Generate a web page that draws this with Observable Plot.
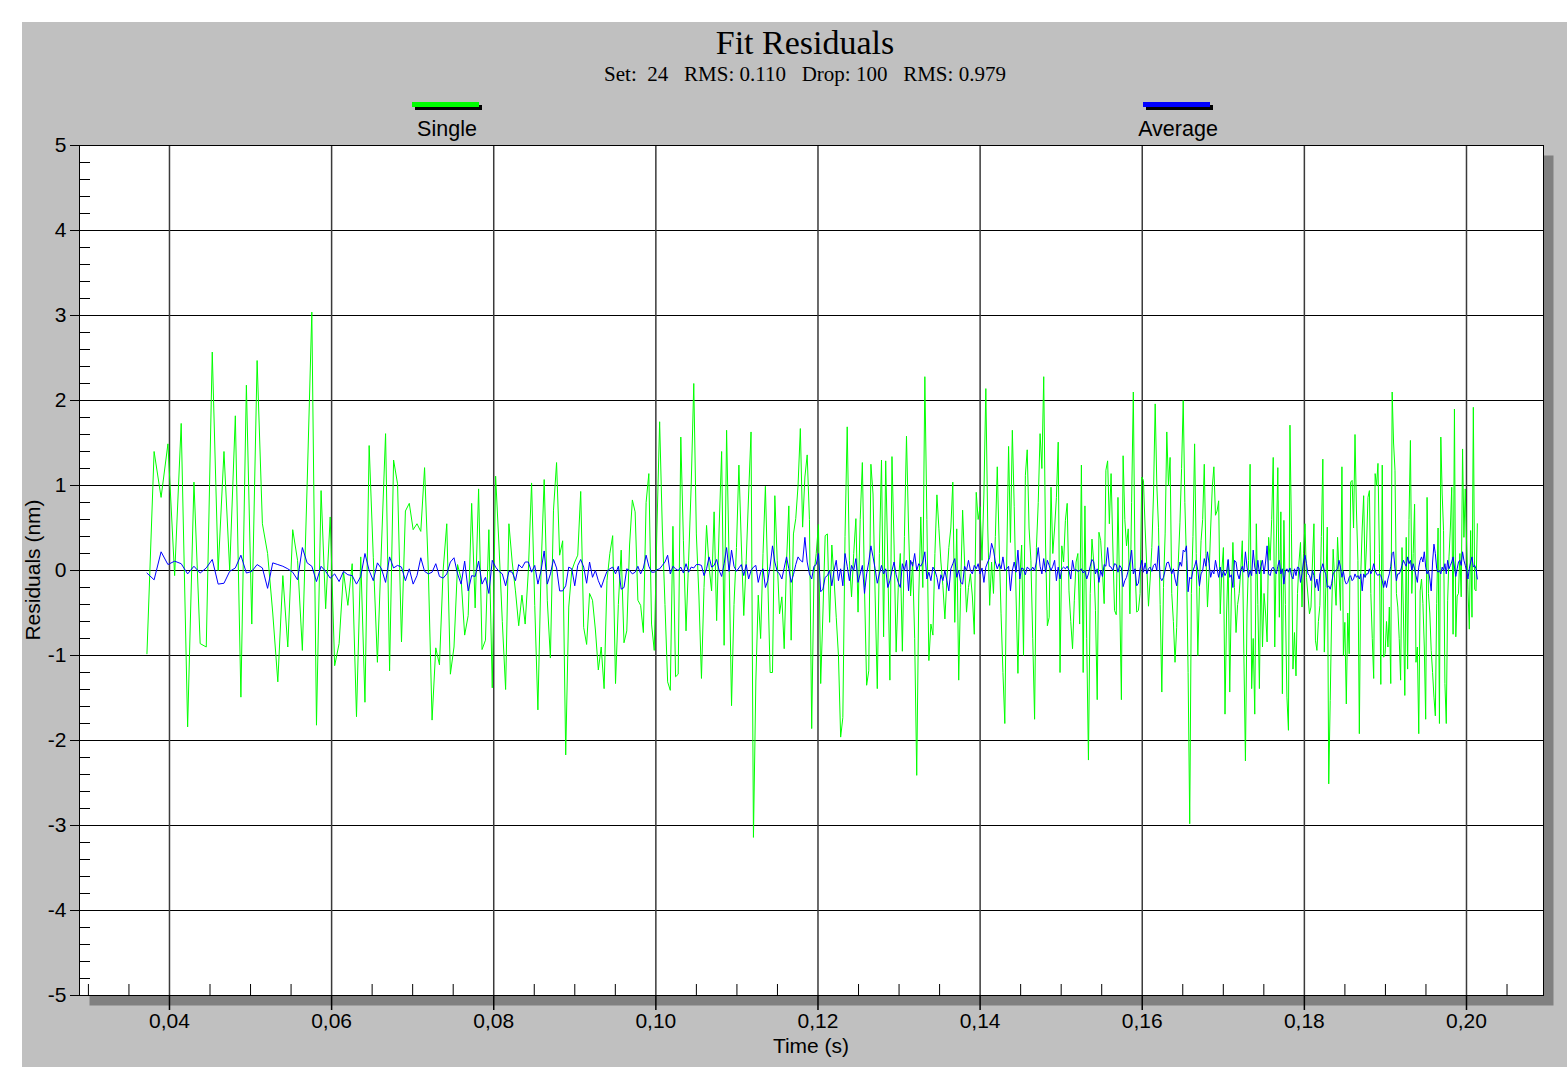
<!DOCTYPE html>
<html>
<head>
<meta charset="utf-8">
<script src="https://cdn.jsdelivr.net/npm/d3@7"></script>
<script src="https://cdn.jsdelivr.net/npm/@observablehq/plot@0.6"></script>
<style>
html, body { margin: 0; padding: 0; background: #ffffff; }
#wrap { position: relative; width: 1567px; height: 1070px; overflow: hidden; }
#panel { position: absolute; left: 22px; top: 22px; width: 1545px; height: 1045px; background: #c0c0c0; }
#chart { position: absolute; left: 0; top: 0; }
.t { position: absolute; white-space: pre; line-height: 1; color: #000; }
.serif { font-family: "Liberation Serif", "Times New Roman", serif; }
.sans { font-family: "Liberation Sans", Arial, sans-serif; }
.sw { position: absolute; width: 67px; height: 5px; }
</style>
</head>
<body>
<div id="wrap">
  <div id="panel"></div>
  <div id="chart"></div>
  <div class="t serif" id="title" style="left:805px; top:26px; font-size:34px; transform:translateX(-50%);">Fit Residuals</div>
  <div class="t serif" id="subtitle" style="left:805px; top:64px; font-size:21px; transform:translateX(-50%);"></div>
  <div class="sw" style="left:415px; top:105px; background:#000;"></div>
  <div class="sw" style="left:412px; top:102px; background:#00ff00;"></div>
  <div class="t sans" id="legSingle" style="left:447px; top:119px; font-size:21.5px; transform:translateX(-50%);"></div>
  <div class="sw" style="left:1146px; top:105px; background:#000;"></div>
  <div class="sw" style="left:1143px; top:102px; background:#0000ff;"></div>
  <div class="t sans" id="legAverage" style="left:1178px; top:119px; font-size:21.5px; transform:translateX(-50%);"></div>
  <div class="t sans" id="xlabel" style="left:811px; top:1035px; font-size:21px; transform:translateX(-50%);"></div>
  <div class="t sans" id="ylabel" style="left:32px; top:570px; font-size:21px; transform:translate(-50%,-50%) rotate(-90deg);"></div>
</div>
<script>
// ---------------- data ----------------
const titleText = "Fit Residuals";
const subtitleText = "Set:  24   RMS: 0.110   Drop: 100   RMS: 0.979";
const seriesNames = ["Single", "Average"];
const xLabelText = "Time (s)";
const yLabelText = "Residuals (nm)";

// sample grid: first and last sample time (s); samples are equally spaced in fall distance (t^2)
const tFirst = 0.03722;
const tLast = 0.20134;

const xTicks = [0.04, 0.06, 0.08, 0.10, 0.12, 0.14, 0.16, 0.18, 0.20];
const xMinor = [0.030, 0.035, 0.045, 0.050, 0.055, 0.065, 0.070, 0.075, 0.085, 0.090, 0.095,
  0.105, 0.110, 0.115, 0.125, 0.130, 0.135, 0.145, 0.150, 0.155, 0.165, 0.170, 0.175,
  0.185, 0.190, 0.195, 0.205];
const yTicks = [5, 4, 3, 2, 1, 0, -1, -2, -3, -4, -5];
const yMinor = [4.8, 4.6, 4.4, 4.2, 3.8, 3.6, 3.4, 3.2, 2.8, 2.6, 2.4, 2.2, 1.8, 1.6, 1.4, 1.2,
  0.8, 0.6, 0.4, 0.2, -0.2, -0.4, -0.6, -0.8, -1.2, -1.4, -1.6, -1.8, -2.2, -2.4, -2.6, -2.8,
  -3.2, -3.4, -3.6, -3.8, -4.2, -4.4, -4.6, -4.8];

// Single drop residuals (nm)
const single = [
  -0.98,1.40,0.86,1.49,-0.06,1.73,-1.84,1.04,-0.86,-0.90,2.57,0.0,1.40,0.0,1.82,-1.49,2.18,-0.63,2.47,0.55,0.20,-0.5,-1.31,-0.06,-0.90,0.48,0.12,-0.94,1.0,3.04,-1.82,0.94,-0.45,0.63,-1.12,-0.86,-0.02,-0.41,0.08,-1.72,0.16,-1.55,1.47,
  0.15,-1.08,0.3,1.61,-1.18,1.30,1.02,-0.84,0.70,0.79,
  0.48,0.55,0.46,1.21,0.0,-1.76,-0.91,-1.11,0.0,0.55,
  -1.22,-0.90,0.07,-0.1,-0.76,-0.53,0.79,-0.44,0.96,-0.93,
  -0.82,0.48,-1.38,1.11,0.3,-0.6,-1.40,0.55,0.1,-0.24,
  -0.65,-0.29,-0.63,0.0,1.03,-0.41,-1.64,0.0,1.07,-0.35,
  -1.03,0.71,1.27,0.18,0.35,-2.17,-0.43,0.0,0.10,0.18,
  0.93,-0.67,-0.87,-0.27,-0.35,-0.7,-1.17,
  -0.9,-1.39,-0.12,0.2,0.41,-1.33,-0.4,0.24,-0.85,-0.71,
  0.3,0.83,0.69,-0.35,-0.41,-0.73,0.8,1.14,-0.63,-0.94,
  0.5,1.75,0.5,-0.4,-1.31,-1.41,0.52,-1.25,-1.22,1.57,
  0.35,-0.71,0.12,1.0,2.20,0.43,-0.3,-1.27,-0.2,0.53,
  0.04,-0.24,0.69,-0.59,0.5,1.40,-0.88,1.65,0.12,-1.59,
  -0.4,0.27,1.24,0.3,-0.53,0.12,0.9,1.63,-3.14,-1.3,
  -0.29,-0.80,0.2,0.99,-0.1,-1.20,-1.20,0.88,0.12,-0.51,
  -0.31,-0.92,0.1,0.76,-0.82,0.43,0.61,1.0,1.67,0.51,
  1.1,1.36,0.6,-1.86,-0.04,0.2,0.54,-1.33,-0.5,0.41,
  0.43,-0.61,
  0.3,-0.1,-0.55,-1.0,-1.96,-1.73,0.4,1.69,0.12,-0.31,
  0.2,0.61,-0.49,0.6,1.27,-0.2,-1.35,-1.18,1.25,0.9,
  -0.3,-1.39,0.2,1.30,-0.78,1.29,0.1,-1.29,1.34,0.3,
  -0.96,-0.2,0.2,-0.95,0.4,1.58,0.5,-0.3,0.1,-0.8,
  -2.41,-0.3,0.63,-0.2,2.28,0.6,-1.06,-0.63,-0.76,0.2,
  0.89,0.49,0.1,-0.18,-0.57,-0.1,0.27,0.5,1.04,-0.61,
  0.49,-1.29,-0.2,0.71,0.1,-0.49,-0.2,-0.04,-0.3,-0.75,
  0.92,0.6,0.75,0.12,0.9,2.14,0.5,-0.41,0.1,-0.27,
  0.4,1.22,0.3,-0.51,-1.2,-1.80,0.1,1.46,0.33,1.65,
  0.75,-0.3,-1.21,-0.1,0.3,-1.0,1.12,1.42,0.5,0.12,
  -0.8,-1.75,0.27,0.8,1.61,1.2,2.28,0.3,-0.65,-0.55,
  0.98,0.2,0.5,0.86,1.51,
  -1.20,0.29,0.1,0.59,0.79,-0.24,-0.6,-0.92,-0.35,0.1,
  0.2,-0.63,1.24,-1.20,0.76,-0.8,-2.23,-0.27,0.37,0.1,
  -0.47,-1.52,0.45,0.35,0.0,-0.39,1.18,1.29,0.55,1.14,
  0.3,-0.47,-0.52,0.86,-0.3,-1.52,1.35,0.6,0.29,0.49,
  -0.51,0.8,2.10,0.04,-0.49,-0.47,-0.27,1.10,1.06,0.5,
  0.04,-0.42,-0.1,0.27,0.9,1.96,1.0,0.51,-0.4,-1.43,
  -0.2,0.43,1.63,1.0,1.33,-0.27,-0.6,-1.08,-0.67,0.1,
  0.56,1.2,2.0,0.8,0.12,-1.2,-2.98,-0.27,0.4,1.49,
  0.2,-1.0,-0.2,0.35,0.6,1.25,0.2,-0.43,-0.04,0.5,
  0.98,1.22,0.65,0.7,0.82,-0.51,0.0,0.27,-1.69,-0.5,
  0.12,-1.43,-0.3,0.33,-0.2,-0.73,-0.4,-0.27,0.0,0.35,
  -0.98,-2.24,-0.5,0.12,1.25,-1.39,-0.8,-1.69,0.55,-0.4,
  -1.39,0.12,-0.90,-0.27,-0.5,-0.84,0.39,0.12,0.6,1.33,
  -0.90,0.3,1.21,-0.55,0.69,-1.45,0.59,-0.4,-1.49,-1.88,
  1.71,
  0.43,-1.16,-0.73,-1.24,-0.27,0.1,0.33,-0.43,0.2,0.55,
  -0.08,-0.3,-0.51,-0.43,0.1,0.55,-0.82,-0.94,-0.6,-0.41,
  0.4,1.31,-0.96,-0.2,0.51,-2.51,-1.53,-0.5,0.25,-0.1,
  -0.41,0.39,0.0,-0.47,1.22,-1.0,-0.61,-1.57,-0.5,-0.98,
  1.04,1.06,0.5,1.60,0.7,0.12,-1.92,-0.04,0.5,0.88,
  -0.08,0.3,0.86,0.94,-0.27,-0.8,-1.27,1.14,1.0,1.26,
  0.2,-1.34,1.24,-1.02,-0.98,-0.6,-0.90,-0.43,-1.33,2.10,
  1.5,1.18,-0.27,-0.43,-0.8,-1.29,0.27,-0.5,-1.47,0.39,
  -1.16,0.6,1.53,-0.27,0.2,0.78,-1.08,-0.9,-1.92,-0.24,
  -0.1,-0.39,-0.9,-1.75,0.86,-0.27,-0.5,-0.94,-1.2,-1.49,
  -1.71,-0.39,0.5,-1.80,1.57,0.9,0.47,-1.33,-1.80,-0.35,
  0.16,0.5,0.98,-0.75,1.90,-0.78,-0.3,-0.27,0.2,-0.31,
  1.43,0.39,0.96,0.3,-0.22,-0.69,0.47,-0.55,1.92,-0.22,
  -0.24,0.55
];

// Set average residuals (nm)
const average = [
  -0.03,-0.11,0.22,0.07,0.11,0.08,-0.04,0.05,-0.03,0.03,0.13,-0.16,-0.15,-0.01,0.03,0.18,-0.03,-0.01,0.07,0.03,-0.21,0.09,0.07,0.05,0.02,-0.02,-0.11,0.27,0.09,0.05,-0.13,0.05,-0.01,-0.09,-0.04,-0.13,-0.01,-0.05,-0.06,-0.16,-0.07,0.20,0.0,
  -0.12,0.09,0.02,-0.14,0.16,0.03,0.06,0.04,-0.12,0.02,
  -0.16,-0.06,0.15,-0.01,-0.04,-0.02,0.08,-0.07,-0.09,-0.04,
  0.10,0.15,-0.04,-0.16,0.11,-0.24,-0.06,-0.07,0.11,-0.16,
  -0.08,-0.27,0.12,0.04,-0.01,-0.04,-0.18,-0.01,-0.02,-0.12,
  0.07,0.03,0.10,0.10,-0.02,0.06,-0.16,0.0,0.23,-0.16,
  -0.04,0.13,0.03,-0.24,-0.24,-0.18,0.04,0.02,-0.18,0.06,
  0.13,0.04,-0.15,0.10,-0.08,0.0,-0.12,
  -0.2,-0.1,-0.01,0.02,0.04,-0.04,0.05,-0.22,-0.2,0.02,
  0.0,-0.04,-0.02,0.05,-0.04,0.03,0.18,0.05,-0.02,-0.02,
  0.01,0.02,0.06,0.1,0.18,-0.04,0.05,0.02,0.0,0.04,
  -0.03,0.08,-0.02,0.04,0.03,0.07,0.07,0.06,-0.06,0.02,
  0.16,0.04,0.06,0.13,0.0,-0.07,0.08,0.27,-0.01,0.24,
  0.05,-0.01,0.03,0.07,-0.06,0.07,-0.1,0.0,0.04,0.06,
  -0.14,-0.02,0.02,-0.2,-0.12,0.05,0.29,0.1,-0.01,-0.04,
  -0.1,0.03,0.16,0.02,-0.14,-0.05,0.07,0.16,0.12,0.1,
  0.39,0.1,-0.04,-0.1,0.05,0.07,0.2,-0.25,-0.22,-0.08,
  -0.06,0.0,
  -0.18,0.0,0.12,-0.12,0.02,-0.18,0.2,0.05,-0.12,0.06,
  0.0,0.14,-0.14,-0.04,0.06,-0.27,-0.04,0.1,0.29,0.16,
  0.02,-0.15,-0.04,0.06,-0.04,0.02,-0.2,-0.12,0.0,0.1,
  -0.05,-0.14,-0.2,0.08,0.0,0.12,-0.24,0.12,0.05,0.2,
  0.0,0.08,0.05,0.1,0.22,-0.1,-0.02,-0.12,0.04,0.0,
  -0.08,-0.22,-0.05,-0.12,0.0,-0.12,-0.24,0.02,0.08,0.14,
  -0.08,0.0,-0.14,-0.16,0.05,0.0,0.12,0.0,-0.04,0.06,
  0.02,0.08,-0.04,0.03,-0.14,0.04,0.1,0.15,0.32,0.24,
  0.1,0.02,0.08,0.02,0.16,0.0,0.02,0.05,-0.24,0.0,
  0.1,-0.02,0.24,-0.1,0.03,0.02,-0.05,0.04,0.02,0.0,
  0.04,0.0,0.1,0.27,0.05,-0.04,0.14,-0.02,0.12,0.06,
  0.0,0.05,0.12,-0.12,0.04,
  -0.1,0.02,0.04,0.02,0.05,0.0,-0.1,0.12,0.0,0.01,
  -0.01,0.0,0.02,-0.03,0.0,-0.1,-0.04,0.05,0.13,0.1,
  -0.04,0.02,-0.14,0.0,-0.07,0.07,0.05,0.27,0.05,0.04,
  0.0,0.08,0.07,-0.02,0.06,0.03,-0.19,-0.12,-0.08,0.0,
  0.1,0.24,-0.04,0.02,-0.18,-0.15,0.02,0.12,-0.02,0.09,
  -0.04,0.02,0.04,-0.01,0.06,0.08,0.0,0.29,-0.08,-0.12,
  -0.08,0.0,0.09,0.1,0.03,-0.04,0.02,-0.1,-0.18,0.0,
  0.1,0.05,0.24,0.22,0.29,-0.25,-0.08,-0.1,0.0,0.05,
  0.12,0.0,-0.18,-0.04,0.0,0.14,0.05,0.22,0.08,-0.08,
  0.0,-0.04,0.12,0.02,-0.08,0.04,-0.08,0.0,-0.06,-0.02,
  0.13,-0.08,-0.05,-0.2,0.12,0.1,-0.04,-0.1,0.0,0.05,
  -0.02,0.22,0.04,-0.08,0.0,-0.06,0.24,0.04,-0.04,0.12,
  -0.04,0.05,0.12,-0.04,0.1,0.29,-0.04,-0.06,0.02,0.04,
  0.0,-0.04,0.05,0.12,-0.04,0.02,-0.16,0.0,0.02,-0.02,
  0.03,
  -0.06,-0.1,0.02,-0.06,0.04,0.03,-0.14,-0.04,0.1,0.18,
  0.08,-0.04,-0.06,-0.12,0.0,-0.06,-0.2,-0.1,-0.24,-0.04,
  0.02,0.08,0.0,-0.04,-0.2,-0.18,-0.22,-0.15,-0.04,-0.01,
  0.0,0.02,0.12,0.04,-0.08,-0.01,-0.12,-0.16,-0.14,-0.08,
  -0.06,-0.12,-0.1,-0.04,-0.08,-0.06,-0.1,-0.04,-0.24,-0.04,
  -0.08,-0.04,-0.04,0.02,-0.04,0.0,0.08,0.0,-0.04,-0.06,
  -0.04,-0.06,-0.12,-0.2,-0.12,-0.2,-0.1,-0.04,0.05,0.2,
  0.22,0.02,-0.12,-0.04,-0.04,0.0,0.06,0.12,
  0.08,0.05,0.16,0.08,0.12,0.0,0.08,0.02,-0.06,-0.14,
  0.04,0.12,0.16,0.1,0.22,0.04,-0.04,0.0,-0.1,-0.24,
  0.1,0.31,0.2,0.02,-0.02,0.0,-0.04,0.04,0.0,0.08,
  -0.04,0.12,0.02,0.06,0.1,0.16,0.04,-0.07,0.02,0.1,
  0.12,0.06,0.22,0.12,0.06,0.0,-0.1,0.02,0.1,0.16,
  0.04,0.06,0.02,-0.1
];

// ---------------- build ----------------
const N = Math.min(single.length, average.length);
const sampleTime = i => Math.sqrt(tFirst * tFirst + i * (tLast * tLast - tFirst * tFirst) / (N - 1));
const singleRows = [], averageRows = [];
for (let i = 0; i < N; i++) {
  const t = sampleTime(i);
  singleRows.push({t, v: single[i]});
  averageRows.push({t, v: average[i]});
}

document.getElementById("subtitle").textContent = subtitleText;
document.getElementById("title").textContent = titleText;
document.getElementById("legSingle").textContent = seriesNames[0];
document.getElementById("legAverage").textContent = seriesNames[1];
document.getElementById("xlabel").textContent = xLabelText;
document.getElementById("ylabel").textContent = yLabelText;

const W = 1567, H = 1070;
const mL = 79, mR = 24, mT = 145, mB = 75;
const plotW = W - mL - mR, plotH = H - mT - mB;

const chart = Plot.plot({
  width: W,
  height: H,
  marginLeft: mL,
  marginRight: mR,
  marginTop: mT,
  marginBottom: mB,
  style: {background: "transparent", fontFamily: "'Liberation Sans', Arial, sans-serif", fontSize: "21px", color: "#000", overflow: "visible"},
  x: {domain: [0.0289, 0.2095], axis: null},
  y: {domain: [-5, 5], axis: null},
  marks: [
    Plot.frame({fill: "#808080", insetLeft: 10, insetTop: 10, insetRight: -10, insetBottom: -10}),
    Plot.frame({fill: "#ffffff"}),
    Plot.ruleY(yTicks, {y: d => d, stroke: "#000", strokeWidth: 1}),
    Plot.ruleX(xTicks, {x: d => d, stroke: "#3a3a3a", strokeWidth: 1.5}),
    Plot.tickY(yMinor, {y: d => d, stroke: "#000", strokeWidth: 1, insetRight: plotW - 11}),
    Plot.tickX(xMinor, {x: d => d, stroke: "#000", strokeWidth: 1, insetTop: plotH - 11}),
    Plot.line(singleRows, {x: "t", y: "v", stroke: "#00ff00", strokeWidth: 1}),
    Plot.line(averageRows, {x: "t", y: "v", stroke: "#0000ff", strokeWidth: 1}),
    Plot.frame({stroke: "#000", strokeWidth: 1}),
    Plot.axisY(yTicks, {anchor: "left", tickSize: 9, tickPadding: 4, tickFormat: d => String(d), fontSize: 21, label: null, stroke: "#000", fill: "#000"}),
    Plot.axisX(xTicks, {anchor: "bottom", tickSize: 15, tickPadding: 3, tickFormat: d => d.toFixed(2).replace(".", ","), fontSize: 21, label: null, strokeWidth: 1.5, stroke: "#000", fill: "#000"})
  ]
});
document.getElementById("chart").appendChild(chart);
</script>
</body>
</html>
